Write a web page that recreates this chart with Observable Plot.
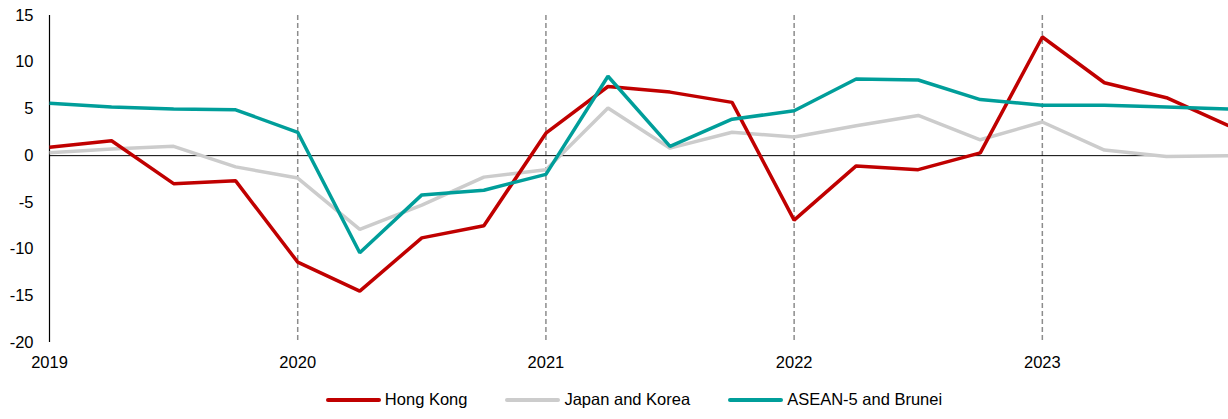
<!DOCTYPE html>
<html>
<head>
<meta charset="utf-8">
<script src="https://cdn.jsdelivr.net/npm/d3@7"></script>
<script src="https://cdn.jsdelivr.net/npm/@observablehq/plot@0.6"></script>
<style>
  html, body { margin: 0; padding: 0; background: #fff; }
  #chart { width: 1228px; }
  .legend {
    display: flex; justify-content: center; align-items: center;
    padding-left: 40px; box-sizing: border-box; width: 1228px; height: 39px;
    font-family: Arial, "Liberation Sans", sans-serif; font-size: 16.5px; color: #000;
  }
  .legend .item { display: flex; align-items: center; margin: 0 19px; }
  .legend .sw { width: 55px; height: 4px; border-radius: 2px; margin-right: 4px; }
</style>
</head>
<body>
<div id="chart"></div>
<script>
const quarters = ["2019Q1","2019Q2","2019Q3","2019Q4","2020Q1","2020Q2","2020Q3","2020Q4",
  "2021Q1","2021Q2","2021Q3","2021Q4","2022Q1","2022Q2","2022Q3","2022Q4",
  "2023Q1","2023Q2","2023Q3","2023Q4"];
const seriesNames = ["Hong Kong", "Japan and Korea", "ASEAN-5 and Brunei"];
const hongKong = [0.9, 1.6, -3.0, -2.7, -11.4, -14.5, -8.8, -7.5, 2.4, 7.4, 6.8, 5.7, -6.9, -1.1, -1.5, 0.3, 12.7, 7.8, 6.2, 3.2];
const japanKorea = [0.3, 0.7, 1.0, -1.2, -2.4, -7.9, -5.3, -2.3, -1.5, 5.1, 0.8, 2.5, 2.0, 3.2, 4.3, 1.7, 3.6, 0.6, -0.1, 0.0];
const asean = [5.6, 5.2, 5.0, 4.9, 2.5, -10.4, -4.2, -3.7, -2.0, 8.5, 1.0, 3.9, 4.8, 8.2, 8.1, 6.0, 5.4, 5.4, 5.2, 5.0];
const yearTicks = [2019, 2020, 2021, 2022, 2023];
const yTicks = [-20, -15, -10, -5, 0, 5, 10, 15];
const colors = ["#c00000", "#cccccc", "#009e9a"];

const qx = q => +q.slice(0, 4) + (+q.slice(5) - 1) / 4;
const values = [hongKong, japanKorea, asean];
const data = [];
seriesNames.forEach((name, s) => quarters.forEach((q, i) => data.push({series: name, x: qx(q), y: values[s][i]})));
const drawOrder = ["Japan and Korea", "Hong Kong", "ASEAN-5 and Brunei"];

const chart = Plot.plot({
  width: 1228,
  height: 380,
  marginTop: 15,
  marginBottom: 38,
  marginLeft: 49,
  marginRight: 0,
  style: {fontFamily: "Arial, 'Liberation Sans', sans-serif", fontSize: "16.5px", color: "#000", background: "#fff"},
  x: {domain: [qx(quarters[0]), qx(quarters[quarters.length - 1])], label: null},
  y: {domain: [-20, 15], label: null},
  color: {domain: seriesNames, range: colors},
  marks: [
    Plot.ruleX(yearTicks.slice(1), {stroke: "#8c8c8c", strokeWidth: 1.5, strokeDasharray: "5,3"}),
    Plot.ruleY([0], {stroke: "#000", strokeWidth: 1}),
    Plot.ruleX([yearTicks[0]], {stroke: "#000", strokeWidth: 1.2}),
    ...drawOrder.map(name => Plot.line(data.filter(d => d.series === name), {x: "x", y: "y", stroke: "series", strokeWidth: 3.5, strokeLinejoin: "miter", strokeLinecap: "butt"})),
    Plot.axisX({ticks: yearTicks, tickFormat: d => String(d), tickSize: 0, tickPadding: 14, label: null}),
    Plot.axisY({ticks: yTicks, tickFormat: d => String(d), tickSize: 0, tickPadding: 16, label: null})
  ]
});
document.getElementById("chart").appendChild(chart);

const legend = document.createElement("div");
legend.className = "legend";
seriesNames.forEach((name, i) => {
  const item = document.createElement("div");
  item.className = "item";
  const sw = document.createElement("span");
  sw.className = "sw";
  sw.style.background = colors[i];
  const label = document.createElement("span");
  label.textContent = name;
  item.appendChild(sw);
  item.appendChild(label);
  legend.appendChild(item);
});
document.body.appendChild(legend);
</script>
</body>
</html>
